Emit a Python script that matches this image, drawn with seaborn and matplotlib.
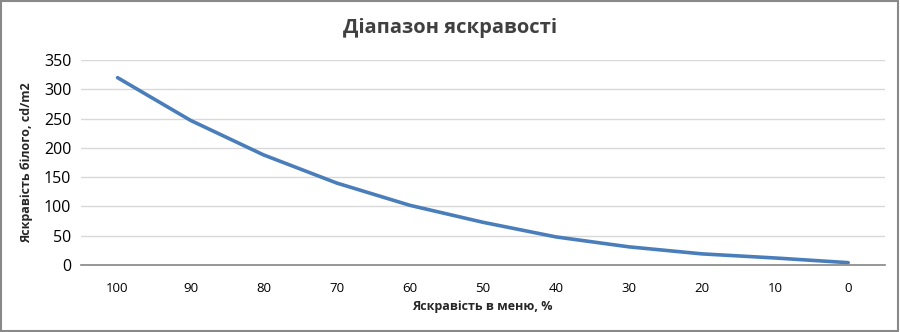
import matplotlib
matplotlib.use("Agg")
import matplotlib.pyplot as plt
import seaborn as sns
import pandas as pd
from matplotlib.patches import Rectangle

menu_brightness = ["100", "90", "80", "70", "60", "50", "40", "30", "20", "10", "0"]
white_luminance = [320, 247, 188, 140, 102, 73, 48, 31, 19, 12, 4]
y_ticks = [0, 50, 100, 150, 200, 250, 300, 350]

sns.set_theme(style="white")
plt.rcParams['font.family'] = ['Open Sans', 'DejaVu Sans']

df = pd.DataFrame({"x": menu_brightness, "y": white_luminance})

fig = plt.figure(figsize=(9, 3.32), dpi=100)
ax = fig.add_axes([0.09, 0.2018, 0.893, 0.6172])

sns.lineplot(data=df, x="x", y="y", ax=ax, color="#4A7EBB", linewidth=2.6, sort=False)

ax.set_xlim(-0.5, 10.5)
ax.set_ylim(0, 350)
ax.set_yticks(y_ticks)
ax.yaxis.grid(True, color="#D9D9D9", linewidth=1)
ax.xaxis.grid(False)
for s in ["top", "right", "left"]:
    ax.spines[s].set_visible(False)
ax.spines["bottom"].set_color("#868686")
ax.spines["bottom"].set_linewidth(1.2)
ax.tick_params(axis="y", labelsize=11.5, colors="#000000", length=0, pad=7)
ax.tick_params(axis="x", labelsize=9.5, colors="#000000", length=0, pad=12)

ax.set_xlabel("Яскравість в меню, %", fontsize=9, fontweight="bold", labelpad=4)
ax.set_ylabel("Яскравість білого, cd/m2", fontsize=9, fontweight="bold", labelpad=8)

fig.text(0.5, 0.917, "Діапазон яскравості", ha="center", va="center",
         fontsize=14.5, fontweight="bold", color="#404040")

fig.patches.append(Rectangle((0.001, 0.002), 0.997, 0.995, transform=fig.transFigure,
                             fill=False, edgecolor="#898989", linewidth=1.5))

fig.savefig("out.png", dpi=100)
